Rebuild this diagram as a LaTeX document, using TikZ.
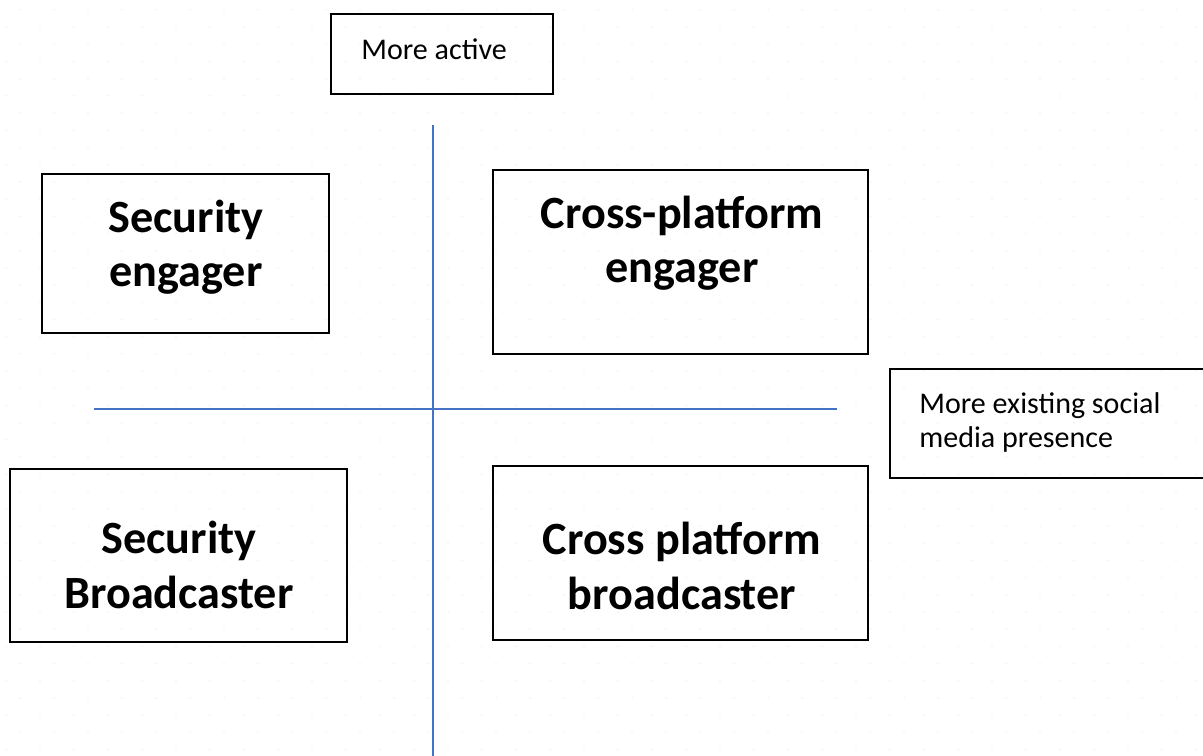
\documentclass[tikz,border=0pt]{standalone}
\usepackage{fontspec}
\setmainfont{Carlito}
\usepackage{xcolor}
\usepackage{tikz}

\definecolor{axisblue}{HTML}{4472C4}

\tikzset{
	quadbox/.style={draw=black, line width=1.1pt, inner sep=0pt},
	quadtxt/.style={font=\fontsize{26.3}{31.3}\selectfont\bfseries, align=center, anchor=base, inner sep=0pt},
	axistxt/.style={font=\fontsize{17.1}{19.9}\selectfont, align=left, anchor=base west, inner sep=0pt},
	axisline/.style={draw=axisblue, line width=1.3pt},
	griddot/.style={fill=black!5}
}

\begin{document}
\begin{tikzpicture}[x=0.02cm, y=-0.02cm]
		%page size and clipping of the cut box on the right
		\useasboundingbox (0,0) rectangle (1203,756);
		\clip (0,0) rectangle (1203,756);
		
		%faint dot grid, every other row shifted
		\foreach \r in {0,...,44} {
			\foreach \c in {0,...,35} {
				\fill [griddot] ({20 + 34*\c - 14*mod(\r,2)}, {10 + 17.2*\r}) circle [radius=1];
			}
		}
		
		%ends of the axes
		\coordinate (vTop) at (433,125);
		\coordinate (vBot) at (433,756);
		\coordinate (hLeft) at (94,409);
		\coordinate (hRight) at (837,409);
		
		%axes
		\draw [axisline] (vTop) -- (vBot);
		\draw [axisline] (hLeft) -- (hRight);
		
		%axis labels (text placed by its last baseline)
		\node [quadbox, minimum width=4.44cm, minimum height=1.6cm] (activeBox) at (442,54) {};
		\node [axistxt] (active) at (361,60) {More active};
		
		\node [quadbox, minimum width=6.4cm, minimum height=2.18cm] (presenceBox) at (1050,423.5) {};
		\node [axistxt] (presence) at (919,448) {More existing social\\media presence};
		
		%quadrants
		\node [quadbox, minimum width=5.74cm, minimum height=3.18cm] (secEngBox) at (185.5,253.5) {};
		\node [quadtxt] (secEng) at (186,287) {Security\\engager};
		
		\node [quadbox, minimum width=7.5cm, minimum height=3.68cm] (crossEngBox) at (680.5,262) {};
		\node [quadtxt] (crossEng) at (682,283) {Cross-platform\\engager};
		
		\node [quadbox, minimum width=6.74cm, minimum height=3.46cm] (secBrdBox) at (178.5,555.5) {};
		\node [quadtxt] (secBrd) at (179,608) {Security\\Broadcaster};
		
		\node [quadbox, minimum width=7.5cm, minimum height=3.48cm] (crossBrdBox) at (680.5,553) {};
		\node [quadtxt] (crossBrd) at (682,609) {Cross platform\\broadcaster};
\end{tikzpicture}
\end{document}
